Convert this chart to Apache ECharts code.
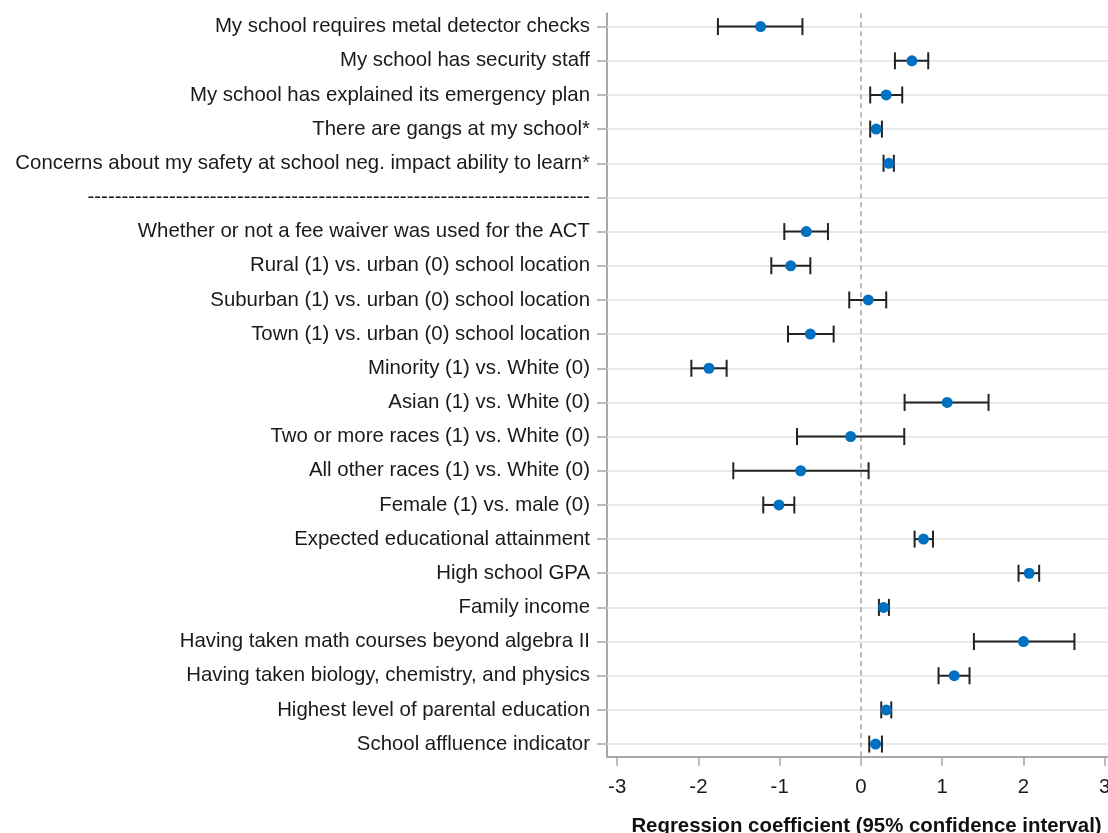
<!DOCTYPE html>
<html>
<head>
<meta charset="utf-8">
<script src="https://cdn.jsdelivr.net/npm/echarts@6/dist/echarts.min.js"></script>
<style>
html,body{margin:0;padding:0;background:#fff;}
#chart{width:1108px;height:833px;}
</style>
</head>
<body>
<div id="chart"></div>
<script>
const categories = [
  "My school requires metal detector checks",
  "My school has security staff",
  "My school has explained its emergency plan",
  "There are gangs at my school*",
  "Concerns about my safety at school neg. impact ability to learn*",
  "--------------------------------------------------------------------------",
  "Whether or not a fee waiver was used for the ACT",
  "Rural (1) vs. urban (0) school location",
  "Suburban (1) vs. urban (0) school location",
  "Town (1) vs. urban (0) school location",
  "Minority (1) vs. White (0)",
  "Asian (1) vs. White (0)",
  "Two or more races (1) vs. White (0)",
  "All other races (1) vs. White (0)",
  "Female (1) vs. male (0)",
  "Expected educational attainment",
  "High school GPA",
  "Family income",
  "Having taken math courses beyond algebra II",
  "Having taken biology, chemistry, and physics",
  "Highest level of parental education",
  "School affluence indicator"
];
const estimates = [-1.235, 0.627, 0.311, 0.188, 0.344, null, -0.673, -0.865, 0.090, -0.623, -1.870, 1.061, -0.127, -0.742, -1.009, 0.770, 2.070, 0.278, 2.000, 1.148, 0.311, 0.180];
const lower =     [-1.760, 0.418, 0.114, 0.114, 0.278, null, -0.943, -1.103, -0.144, -0.898, -2.087, 0.537, -0.787, -1.571, -1.202, 0.660, 1.939, 0.221, 1.390, 0.955, 0.250, 0.102];
const upper =     [-0.720, 0.828, 0.508, 0.258, 0.405, null, -0.406, -0.623, 0.311, -0.336, -1.653, 1.570, 0.533, 0.094, -0.820, 0.886, 2.193, 0.344, 2.627, 1.336, 0.373, 0.258];
const xTicks = [-3, -2, -1, 0, 1, 2, 3];
const xTitle = "Regression coefficient (95% confidence interval)";

const rowIdx = categories.map((_, i) => i + 1);
const pointData = [];
const barData = [];
categories.forEach((c, i) => {
  if (estimates[i] !== null) {
    pointData.push([estimates[i], i + 1]);
    barData.push([i + 1, lower[i], upper[i]]);
  }
});

const FONT = "'Liberation Sans', Arial, sans-serif";
const AXIS_COLOR = '#a8a8a8';

const chart = echarts.init(document.getElementById('chart'), null, {renderer: 'canvas'});
chart.setOption({
  animation: false,
  backgroundColor: '#ffffff',
  grid: {left: 607, right: 0, top: 13.3, bottom: 76.3, containLabel: false, outerBoundsMode: 'none'},
  xAxis: {
    type: 'value',
    min: -3.125,
    max: 3.04,
    splitLine: {show: false},
    axisLine: {show: true, onZero: false, lineStyle: {color: AXIS_COLOR, width: 2}},
    axisTick: {show: true, inside: false, length: 9, customValues: xTicks, lineStyle: {color: AXIS_COLOR, width: 1.5}},
    axisLabel: {show: true, customValues: xTicks, margin: 21, fontSize: 20.4, fontFamily: FONT, color: '#1a1a1a', showMinLabel: true, showMaxLabel: true, hideOverlap: false},
    name: xTitle,
    nameLocation: 'middle',
    nameGap: 60,
    nameTextStyle: {fontSize: 20.4, fontWeight: 'bold', fontFamily: FONT, color: '#111', padding: [0, 0, 0, 18]}
  },
  yAxis: {
    type: 'value',
    inverse: true,
    min: 0.61,
    max: 22.37,
    splitLine: {show: false},
    axisLine: {show: true, onZero: false, lineStyle: {color: AXIS_COLOR, width: 2}},
    axisTick: {show: true, inside: false, length: 10, customValues: rowIdx, lineStyle: {color: AXIS_COLOR, width: 1.5}},
    axisLabel: {
      show: true, customValues: rowIdx, margin: 17, fontSize: 20.4, fontFamily: FONT, color: '#1a1a1a',
      showMinLabel: true, showMaxLabel: true, hideOverlap: false,
      formatter: v => categories[Math.round(v) - 1] || ''
    }
  },
  series: [
    {
      type: 'scatter',
      data: [],
      z: 1,
      silent: true,
      markLine: {
        z: 1,
        silent: true,
        symbol: 'none',
        label: {show: false},
        animation: false,
        lineStyle: {color: '#e2e2e2', width: 1.5, type: 'solid'},
        data: rowIdx.map(i => ({yAxis: i}))
      }
    },
    {
      type: 'scatter',
      data: [],
      z: 2,
      silent: true,
      markLine: {
        z: 2,
        silent: true,
        symbol: 'none',
        label: {show: false},
        animation: false,
        lineStyle: {color: '#a5a5a5', width: 1.5, type: [5, 4]},
        data: [{xAxis: 0}]
      }
    },
    {
      type: 'custom',
      z: 3,
      encode: {x: [1, 2], y: 0},
      data: barData,
      renderItem: function (params, api) {
        const row = api.value(0);
        const lo = api.coord([api.value(1), row]);
        const hi = api.coord([api.value(2), row]);
        const h = 8.5;
        const st = {stroke: '#222222', lineWidth: 2};
        return {
          type: 'group',
          children: [
            {type: 'line', shape: {x1: lo[0], y1: lo[1], x2: hi[0], y2: hi[1]}, style: st},
            {type: 'line', shape: {x1: lo[0], y1: lo[1] - h, x2: lo[0], y2: lo[1] + h}, style: st},
            {type: 'line', shape: {x1: hi[0], y1: hi[1] - h, x2: hi[0], y2: hi[1] + h}, style: st}
          ]
        };
      }
    },
    {
      type: 'scatter',
      z: 4,
      data: pointData,
      symbol: 'circle',
      symbolSize: 11,
      itemStyle: {color: '#0070C0', opacity: 1}
    }
  ]
});
</script>
</body>
</html>
